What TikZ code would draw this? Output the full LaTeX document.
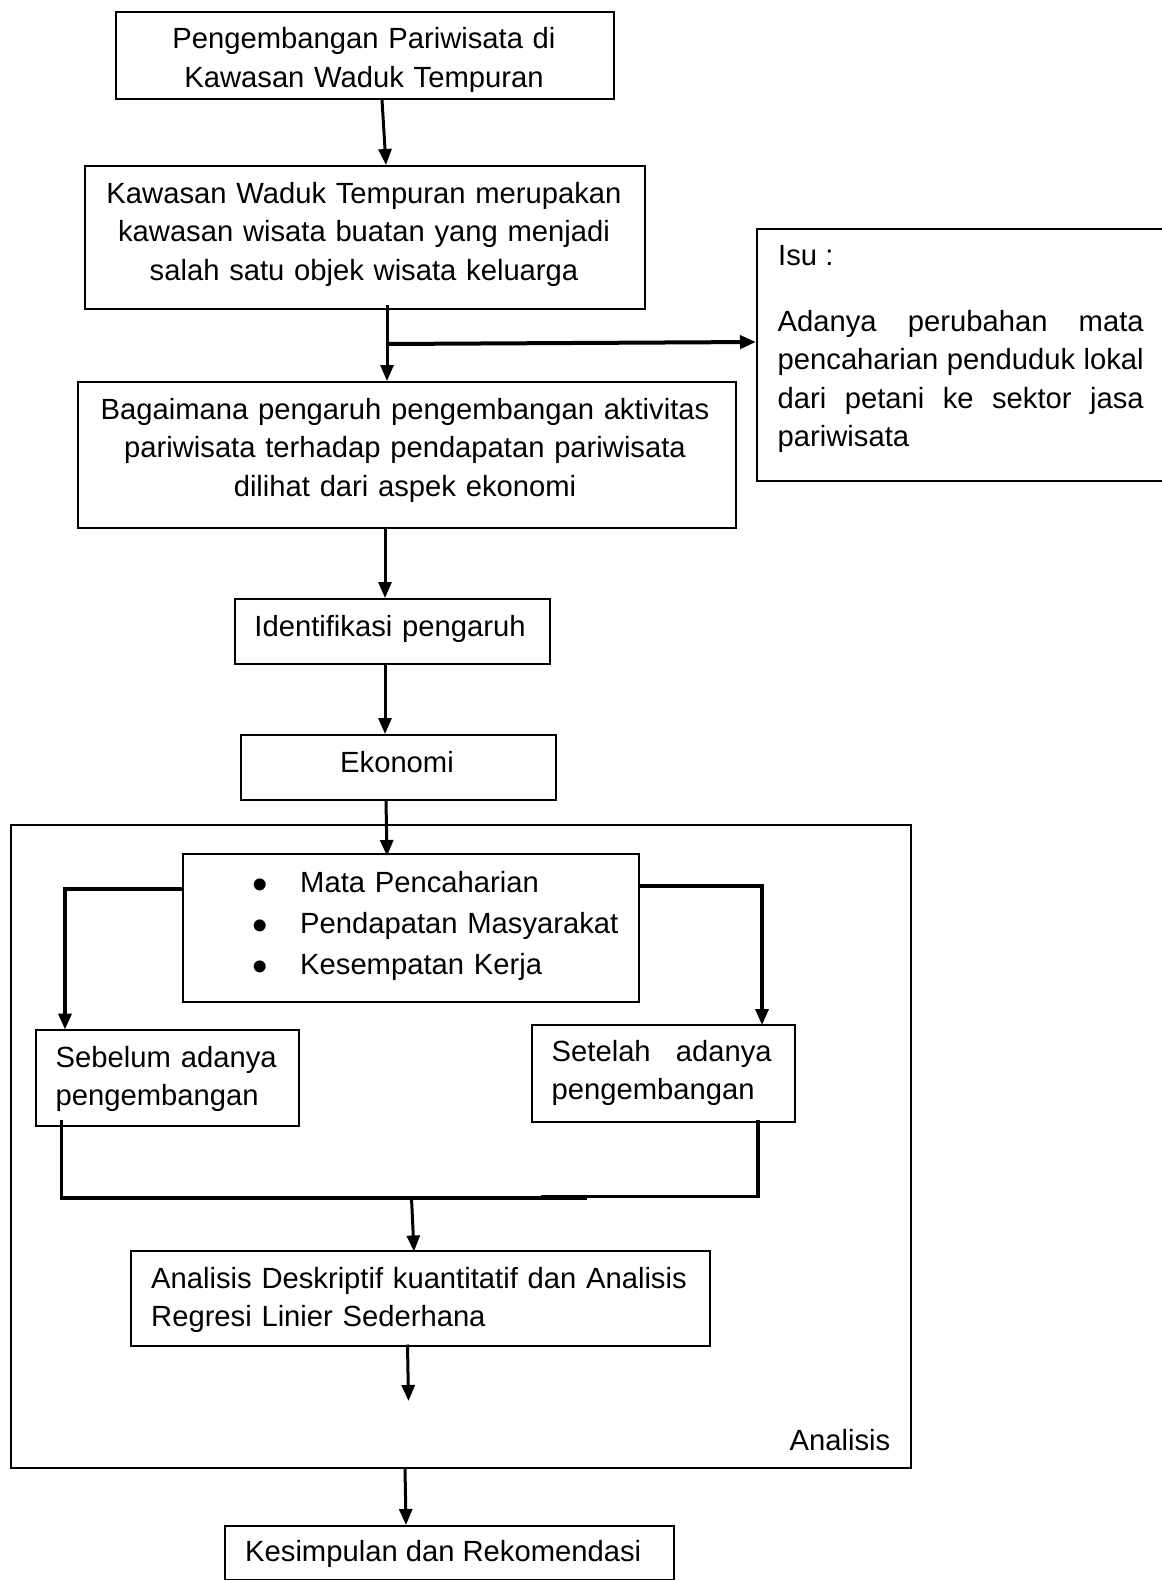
\documentclass[tikz,border=0pt]{standalone}
\usepackage{fontspec}
\setmainfont{Liberation Sans}
\usetikzlibrary{arrows.meta,calc}
\newcommand\fsz{\fontsize{29.2pt}{38.5pt}\selectfont}
\newcommand\bfsz{\fontsize{44pt}{44pt}\selectfont}
\begin{document}
\begin{tikzpicture}[x=1pt,y=-1pt,
  box/.style={draw, line width=2pt, inner sep=0pt, anchor=north west},
  conn/.style={line width=3.2pt},
  arr/.style={line width=3pt, -{Triangle[length=16pt,width=13pt]}},
  txt/.style={inner sep=0pt, font=\fsz},
  ctxt/.style={txt, anchor=base, text width=700pt, align=center},
  ltxt/.style={txt, anchor=base west, text width=640pt, align=left},
  jtxt/.style={txt, anchor=base west, align=justify},
  bul/.style={inner sep=0pt, anchor=base, font=\bfsz}]
\useasboundingbox (0,0) rectangle (1162,1580);
\fill[white] (0,0) rectangle (1162,1580);

% boxes
\node[box, minimum width=498pt, minimum height=87pt] (b1) at (115,11) {};
\node[box, minimum width=560pt, minimum height=143pt] (b2) at (84,165) {};
\node[box, minimum width=420pt, minimum height=252pt] (isu) at (756,228) {};
\node[box, minimum width=658pt, minimum height=146pt] (b3) at (77,381) {};
\node[box, minimum width=315pt, minimum height=65pt] (b4) at (233.5,598) {};
\node[box, minimum width=315pt, minimum height=65pt] (b5) at (240,734) {};
\node[box, minimum width=900pt, minimum height=643pt] (big) at (10,824) {};
\node[box, minimum width=456pt, minimum height=148pt] (bl) at (181.5,853) {};
\node[box, minimum width=263pt, minimum height=96.5pt] (sb) at (35,1028.5) {};
\node[box, minimum width=263.5pt, minimum height=97pt] (st) at (530.5,1024) {};
\node[box, minimum width=579pt, minimum height=95pt] (ab) at (130,1249.5) {};
\node[box, minimum width=449pt, minimum height=54pt] (ks) at (224,1525) {};

% texts
\begin{scope}
\clip (115,11) rectangle (613,91);
\node[ctxt] (t1) at (364,48.5) {Pengembangan Pariwisata di\\Kawasan Waduk Tempuran};
\end{scope}
\node[ctxt] (t2) at (364,203) {Kawasan Waduk Tempuran merupakan\\kawasan wisata buatan yang menjadi\\salah satu objek wisata keluarga};
\node[txt, anchor=base west] (tisu) at (778,265) {Isu :};
\node[jtxt, text width=366pt] (tisu2) at (777.5,331) {Adanya perubahan mata\linebreak pencaharian penduduk lokal\linebreak dari petani ke sektor jasa\linebreak pariwisata};
\node[ctxt] (t3) at (405,419) {Bagaimana pengaruh pengembangan aktivitas\\pariwisata terhadap pendapatan pariwisata\\dilihat dari aspek ekonomi};
\node[ctxt] (t4) at (390,636) {Identifikasi pengaruh};
\node[ctxt] (t5) at (397,772) {Ekonomi};
\node[ltxt, font=\fontsize{29.2pt}{41pt}\selectfont] (t6) at (300,892.7) {Mata Pencaharian\\Pendapatan Masyarakat\\Kesempatan Kerja};
\node[bul] (u1) at (260,899.5) {•};
\node[bul] (u2) at (260,940.2) {•};
\node[bul] (u3) at (260,981.2) {•};
\node[jtxt, text width=221pt] (t7) at (55.5,1067) {Sebelum adanya\linebreak pengembangan};
\node[jtxt, text width=220pt] (t8) at (551.5,1061) {Setelah adanya\linebreak pengembangan};
\node[ltxt] (t9) at (151,1288) {Analisis Deskriptif kuantitatif dan Analisis\\Regresi Linier Sederhana};
\node[txt, anchor=base west] (t10) at (789.5,1450) {Analisis};
\node[txt, anchor=base west] (t11) at (245,1561) {Kesimpulan dan Rekomendasi};

% helper coordinates
\coordinate (br) at ($(b2.south west)+(303,34)$);
\coordinate (jl) at (587,1198);
\coordinate (jr) at (541,1196.5);
\coordinate (jc) at (411.5,1198);
\coordinate (ae) at (408.5,1401);

% connectors
\draw[arr] ($(b1.south west)+(267,0)$) -- ($(b2.north west)+(302,0)$);
\draw[arr] ($(b2.south west)+(303,-5)$) -- ($(b3.north west)+(310,0)$);
\draw[arr, line width=4pt] (br) -- ($(isu.north west)+(0,114)$);
\draw[arr] ($(b3.south west)+(308,0)$) -- ($(b4.north west)+(151.5,0)$);
\draw[arr] ($(b4.south west)+(151.5,0)$) -- ($(b5.north west)+(145,0)$);
\draw[arr] ($(b5.south west)+(146,0)$) -- ($(bl.north west)+(205.5,3)$);
\draw[arr, line width=3.5pt] ($(bl.north west)+(0,36)$) -| ($(sb.north west)+(30,1)$);
\draw[arr, line width=3.5pt] ($(bl.north east)+(0,33)$) -| ($(st.north west)+(231.5,1)$);
\draw[conn] ($(sb.south west)+(26.5,-7)$) |- (jl);
\draw[conn] ($(st.south west)+(227.5,-3)$) |- (jr);
\draw[arr] (jc) -- ($(ab.north west)+(284,2)$);
\draw[arr] ($(ab.south west)+(277.5,-2)$) -- (ae);
\draw[arr] ($(big.south west)+(395,-1)$) -- ($(ks.north west)+(182,0)$);
\end{tikzpicture}
\end{document}
